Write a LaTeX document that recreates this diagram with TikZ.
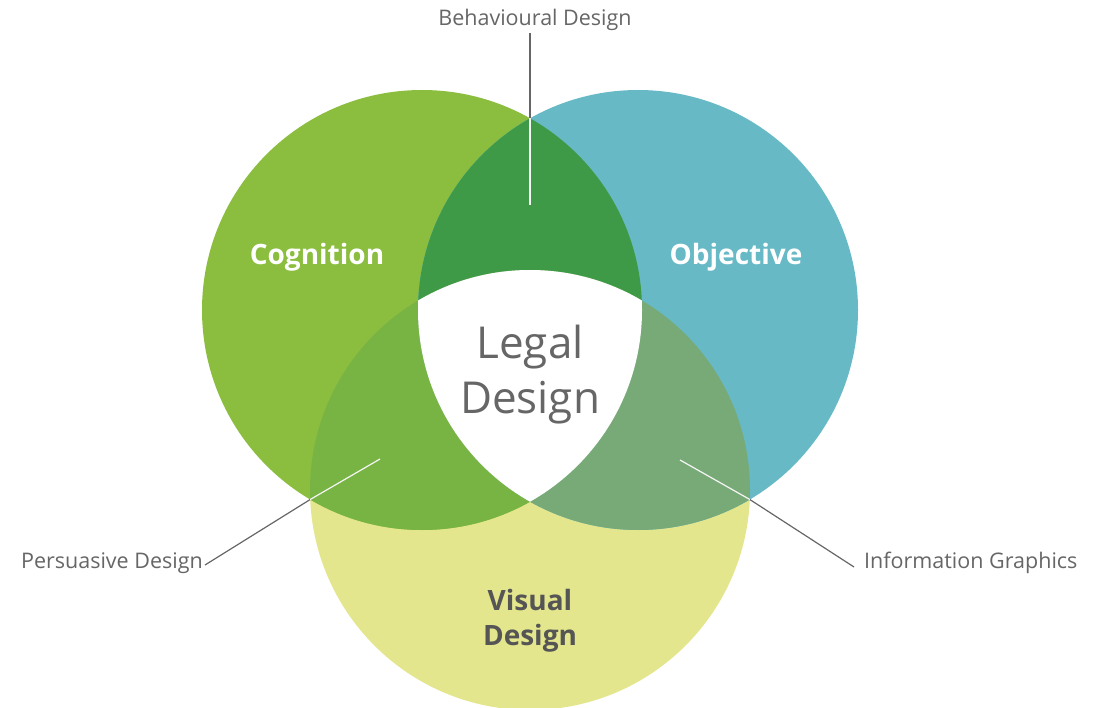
\documentclass[tikz,border=0pt]{standalone}
\usepackage{fontspec}
\setmainfont{Open Sans}
\usetikzlibrary{positioning}
\definecolor{cognfill}{HTML}{8BBD3F}
\definecolor{objfill}{HTML}{67B9C6}
\definecolor{visfill}{HTML}{E3E68C}
\definecolor{behavfill}{HTML}{3F9A48}
\definecolor{persfill}{HTML}{78B444}
\definecolor{infofill}{HTML}{78AA78}
\definecolor{textgray}{HTML}{666666}
\definecolor{darkgray}{HTML}{555555}
\tikzset{
    circlabel/.style={font=\fontsize{28}{35}\selectfont\bfseries, align=center},
    callout/.style={font=\fontsize{21.5}{26}\selectfont, text=textgray, inner sep=2pt},
    leader/.style={line width=1.2pt},
}
\begin{document}
\begin{tikzpicture}[x=1pt,y=-1pt]
        \useasboundingbox (0,0) rectangle (1102,708);
        \coordinate (cogc) at (422,310);
        \coordinate (objc) at (638,310);
        \coordinate (visc) at (530,490);
        \def\rad{220pt}
        % the three sets
        \foreach \c/\col in {visc/visfill,cogc/cognfill,objc/objfill}
        {%
            \fill[\col] (\c) circle[radius=\rad];
        }%
        % pairwise overlaps
        \foreach \a/\b/\col in {cogc/objc/behavfill,cogc/visc/persfill,objc/visc/infofill}
        {%
            \begin{scope}
                \clip (\a) circle[radius=\rad];
                \fill[\col] (\b) circle[radius=\rad];
            \end{scope}
        }%
        % centre
        \begin{scope}
            \clip (cogc) circle[radius=\rad];
            \clip (objc) circle[radius=\rad];
            \fill[white] (visc) circle[radius=\rad];
        \end{scope}
        %
        \node[circlabel, text=white] (cogn) at (317,257) {Cognition};
        \node[circlabel, text=white] (obj) at (736,257) {Objective};
        \node[circlabel, text=darkgray] (vis) at (530,621) {Visual\\Design};
        \node[font=\fontsize{44}{55}\selectfont, text=textgray, align=center] (legal) at (530,375) {Legal\\Design};
        %
        \node[callout] (behav) at (535,20) {Behavioural Design};
        \node[callout, anchor=east] (pers) at (205,563) {Persuasive Design};
        \node[callout, anchor=west] (info) at (862,563) {Information Graphics};
        \coordinate (behavx) at (530,118.3);
        \coordinate (behavin) at (530,205);
        \coordinate (persx) at (310.2,499.5);
        \coordinate (persin) at (380,459);
        \coordinate (infox) at (749.8,499.5);
        \coordinate (infoin) at (680,460);
        \draw[leader, textgray] (behav.south -| behavx) -- (behavx);
        \draw[leader, white!92!gray] (behavx) -- (behavin);
        \draw[leader, textgray] ([yshift=-2pt]pers.east) -- (persx);
        \draw[leader, white!92!gray] (persx) -- (persin);
        \draw[leader, textgray] ([xshift=-8pt,yshift=-4pt]info.west) -- (infox);
        \draw[leader, white!92!gray] (infox) -- (infoin);
\end{tikzpicture}
\end{document}
